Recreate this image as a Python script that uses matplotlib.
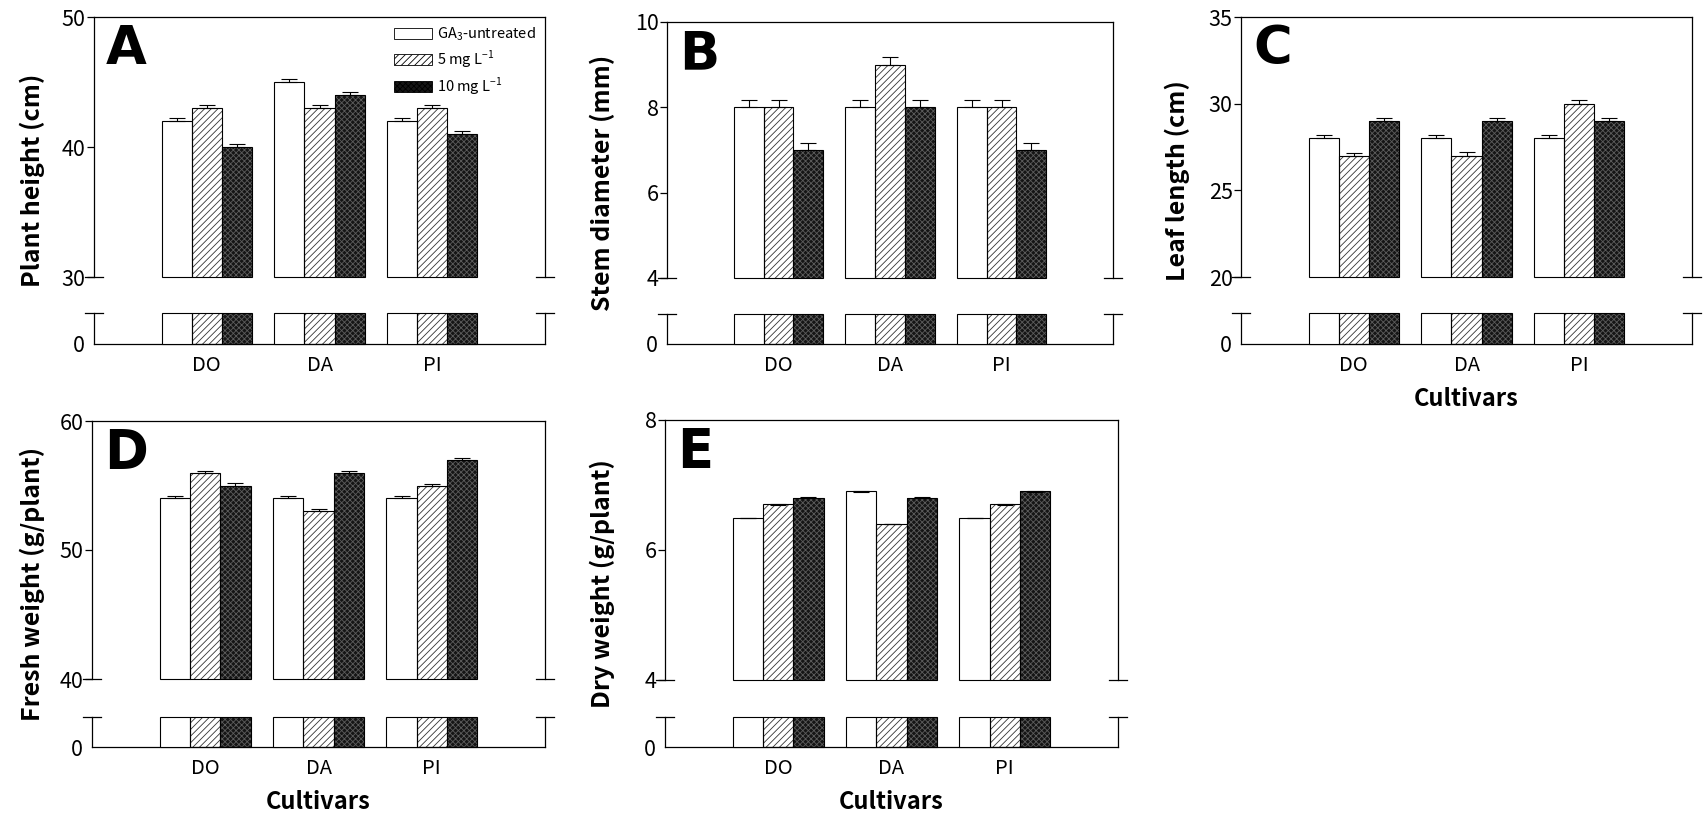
import numpy as np
import matplotlib
matplotlib.use('Agg')
import matplotlib.pyplot as plt
from matplotlib.patches import Patch

plt.rcParams['font.family'] = ['Noto Sans CJK KR', 'DejaVu Sans']
plt.rcParams['mathtext.fontset'] = 'custom'
plt.rcParams['mathtext.rm'] = 'Noto Sans CJK KR'
plt.rcParams['hatch.linewidth'] = 0.6

# data: rows = untreated, 5 mg/L, 10 mg/L ; columns = DO, DA, PI
cultivars = ['DO', 'DA', 'PI']
treatments = ['GA$_3$-untreated', '5 mg L$^{-1}$', '10 mg L$^{-1}$']

plant_height = [[42, 45, 42], [43, 43, 43], [40, 44, 41]]
plant_height_err = [[0.2, 0.2, 0.2], [0.2, 0.2, 0.2], [0.2, 0.2, 0.2]]

stem_diam = [[8, 8, 8], [8, 9, 8], [7, 8, 7]]
stem_diam_err = [[0.17, 0.17, 0.17], [0.17, 0.17, 0.17], [0.17, 0.17, 0.17]]

leaf_len = [[28, 28, 28], [27, 27, 30], [29, 29, 29]]
leaf_len_err = [[0.2, 0.2, 0.2], [0.15, 0.2, 0.2], [0.2, 0.15, 0.15]]

fresh_wt = [[54, 54, 54], [56, 53, 55], [55, 56, 57]]
fresh_wt_err = [[0.2, 0.2, 0.2], [0.15, 0.15, 0.15], [0.2, 0.15, 0.15]]

dry_wt = [[6.5, 6.9, 6.5], [6.7, 6.4, 6.7], [6.8, 6.8, 6.9]]
dry_wt_err = [[0.0, 0.01, 0.0], [0.01, 0.0, 0.01], [0.01, 0.01, 0.01]]

W, H = 1704, 818
fig = plt.figure(figsize=(W / 100, H / 100), dpi=100)


def frac(l, t, r, b):
    return [l / W, 1 - b / H, (r - l) / W, (b - t) / H]


faces = ['white', 'white', '#151515']
hatches = [None, '/////', 'xxxxxx']
hatch_cols = ['black', '#333333', '#5c5c5c']
bw = 0.8 / 3
xpos = np.arange(1, 4)


def draw_bars(ax, vals, base, top, errs=None):
    for i in range(3):
        x = xpos + (i - 1) * bw
        v = np.minimum(np.array(vals[i], dtype=float), top)
        h = v - base
        if hatches[i]:
            ax.bar(x, h, bw, bottom=base, color=faces[i], hatch=hatches[i],
                   edgecolor=hatch_cols[i], linewidth=0, clip_on=False, zorder=2)
            ax.bar(x, h, bw, bottom=base, fill=False, edgecolor='black',
                   linewidth=0.8, clip_on=False, zorder=3)
        else:
            ax.bar(x, h, bw, bottom=base, color=faces[i], edgecolor='black',
                   linewidth=0.8, clip_on=False, zorder=3)
        if errs is not None:
            ax.errorbar(x, v, yerr=[np.zeros(3), errs[i]], fmt='none',
                        ecolor='black', elinewidth=0.8, capsize=6,
                        capthick=0.8, zorder=4)


def panel(box_up, box_low, vals, errs, ylim, yticks, letter, ylabel,
          ylab_x, legend=False, xlabel=False):
    l, t, r, b = box_up
    lt, lb = box_low
    ax = fig.add_axes(frac(l, t, r, b))
    axl = fig.add_axes(frac(l, lt, r, lb))

    draw_bars(ax, vals, ylim[0], ylim[1], errs)
    ax.set_ylim(*ylim)
    ax.set_yticks(yticks)
    ax.set_xlim(0, 4)
    ax.set_xticks([])
    ax.spines['bottom'].set_visible(False)
    for s in ax.spines.values():
        s.set_linewidth(0.9)
    ax.tick_params(axis='y', direction='out', length=5, width=0.9,
                   labelsize=15.5, pad=1)

    low_top = 1.0
    draw_bars(axl, vals, 0, low_top)
    axl.set_ylim(0, low_top)
    axl.set_yticks([0])
    axl.set_xlim(0, 4)
    axl.set_xticks(xpos)
    axl.set_xticklabels(cultivars)
    axl.spines['top'].set_visible(False)
    for s in axl.spines.values():
        s.set_linewidth(0.9)
    axl.tick_params(axis='y', length=0, labelsize=15.5, pad=7)
    axl.tick_params(axis='x', length=0, labelsize=14.5, pad=8)

    # break marks on both sides
    d = 0.02
    for xx in (0, 1):
        ax.plot([xx - d, xx + d], [0, 0], transform=ax.transAxes,
                color='black', lw=0.9, clip_on=False)
        axl.plot([xx - d, xx + d], [1, 1], transform=axl.transAxes,
                 color='black', lw=0.9, clip_on=False)

    ax.text(0.027, 0.975, letter, transform=ax.transAxes, ha='left', va='top',
            fontsize=38, fontweight='bold', family='DejaVu Sans')

    fig.text(ylab_x / W, 1 - (t + lb) / 2 / H, ylabel, rotation=90,
             ha='center', va='center', fontsize=18, fontweight='bold')

    if xlabel:
        fig.text((l + r) / 2 / W, 1 - (lb + 55) / H, 'Cultivars',
                 ha='center', va='center', fontsize=17, fontweight='bold')

    if legend:
        handles = [Patch(facecolor=faces[i], hatch=hatches[i],
                         edgecolor='black', linewidth=0.6) for i in range(3)]
        ax.legend(handles, treatments, loc='upper right', frameon=False,
                  fontsize=10.5, handlelength=2.6, handleheight=0.8,
                  labelspacing=0.35, handletextpad=0.4, borderaxespad=0.2)
    return ax, axl


panel((94, 17, 545, 277), (313, 344), plant_height, plant_height_err,
      (30, 50), [30, 40, 50], 'A', 'Plant height (cm)', 32, legend=True)
panel((667, 22, 1113, 278), (314, 344), stem_diam, stem_diam_err,
      (4, 10), [4, 6, 8, 10], 'B', 'Stem diameter (mm)', 602)
panel((1241, 17, 1692, 277), (313, 344), leaf_len, leaf_len_err,
      (20, 35), [20, 25, 30, 35], 'C', 'Leaf length (cm)', 1177, xlabel=True)
panel((92, 421, 545, 679), (717, 747), fresh_wt, fresh_wt_err,
      (40, 60), [40, 50, 60], 'D', 'Fresh weight (g/plant)', 32, xlabel=True)
panel((665, 420, 1118, 680), (717, 747), dry_wt, dry_wt_err,
      (4, 8), [4, 6, 8], 'E', 'Dry weight (g/plant)', 602, xlabel=True)

fig.savefig('out.png', dpi=100)
